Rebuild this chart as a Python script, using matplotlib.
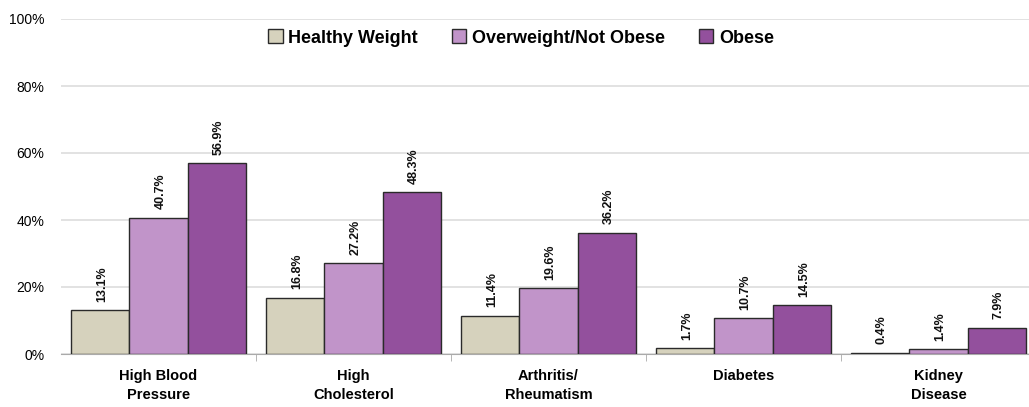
import numpy as np
import matplotlib.pyplot as plt
from matplotlib.patches import Patch

plt.rcParams['font.family'] = ['Liberation Sans', 'DejaVu Sans']

categories = ["High Blood\nPressure", "High\nCholesterol", "Arthritis/\nRheumatism", "Diabetes", "Kidney\nDisease"]
series_names = ["Healthy Weight", "Overweight/Not Obese", "Obese"]
healthy = [13.1, 16.8, 11.4, 1.7, 0.4]
overweight = [40.7, 27.2, 19.6, 10.7, 1.4]
obese = [56.9, 48.3, 36.2, 14.5, 7.9]
colors = ["#D6D2BD", "#C194C9", "#93509D"]

fig = plt.figure(figsize=(10.29, 4.07), dpi=100)
ax = fig.add_axes([61/1029, 1 - 354/407, 975/1029, (354 - 19)/407])

x = np.arange(len(categories))
w = 0.3
for i, (vals, c) in enumerate(zip([healthy, overweight, obese], colors)):
    pos = x + (i - 1) * w
    ax.bar(pos, vals, w, color=c, edgecolor="#2a2a2a", linewidth=1.0, zorder=3)
    for p, v in zip(pos, vals):
        ax.text(p + 0.01, v + 2.5, f"{v:.1f}%", rotation=90, ha="center", va="bottom",
                fontsize=9, fontweight="bold", color="#111111")

ax.set_xlim(-0.5, 4.5)
ax.set_ylim(0, 100)
ax.set_yticks(range(0, 101, 20))
ax.set_yticklabels([f"{t}%" for t in range(0, 101, 20)], fontsize=10)
ax.yaxis.grid(True, color="#dddddd", linewidth=1.2, zorder=0)
ax.tick_params(axis="y", length=0, pad=12)

ax.set_xticks(x)
ax.set_xticklabels(categories, fontsize=10.5, fontweight="bold", linespacing=1.45)
ax.set_xticks(np.arange(0.5, 4.5, 1), minor=True)
ax.tick_params(axis="x", which="major", length=0, pad=11)
ax.tick_params(axis="x", which="minor", length=5, color="#aaaaaa", direction="out")

for s in ["top", "right", "left"]:
    ax.spines[s].set_visible(False)
ax.spines["bottom"].set_color("#aaaaaa")

handles = [Patch(facecolor=c, edgecolor="#2a2a2a", linewidth=1.0) for c in colors]
fig.legend(handles, series_names, loc="center", bbox_to_anchor=(521/1029, 1 - 38/407),
           ncol=3, frameon=False, prop={"weight": "bold", "size": 13},
           handlelength=0.8, handleheight=0.8, handletextpad=0.3, columnspacing=1.9)

fig.savefig("out.png", dpi=100)
